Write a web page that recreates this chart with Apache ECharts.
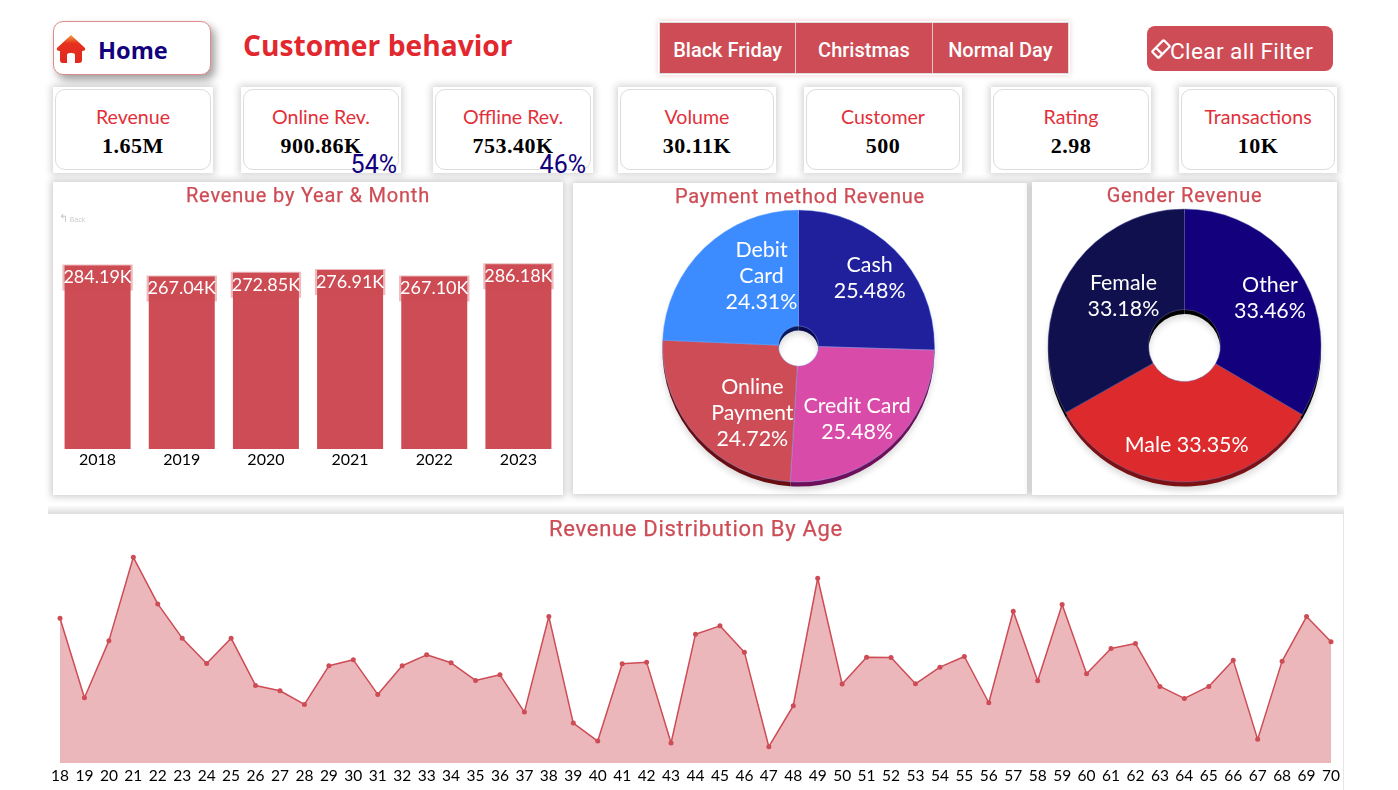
<!DOCTYPE html>
<html>
<head>
<meta charset="utf-8">
<title>Customer behavior</title>
<script src="https://cdn.jsdelivr.net/npm/echarts@6/dist/echarts.min.js"></script>
<style>
  html, body { margin: 0; padding: 0; background: #fff; overflow: hidden; }
  #page { position: relative; width: 1398px; height: 790px; font-family: "Open Sans", sans-serif; }
  #chart { position: absolute; left: 0; top: 0; width: 1398px; height: 790px; z-index: 2; }
  .box { position: absolute; background: #fff; box-sizing: border-box; }
  .panel { box-shadow: 0 0 7px 2px rgba(0,0,0,.2); }
  .heading { position: absolute; z-index: 3; font-family: Roboto, sans-serif; font-size: 20px; color: #cd4c55;
             letter-spacing: .8px; text-align: center; white-space: nowrap; line-height: 24px; -webkit-text-stroke: .25px #cd4c55; }
  #home { left: 53px; top: 21px; width: 158px; height: 54px; border: 1px solid #e08a90; border-radius: 10px;
          box-shadow: 4px 5px 8px rgba(0,0,0,.38); }
  #home span { position: absolute; left: 44px; top: 11px; font-weight: 700; font-size: 23.6px; color: #12007d; line-height: 34px; }
  #home svg { position: absolute; left: 1px; top: 11px; }
  #brand { position: absolute; left: 243px; top: 25px; font-weight: 700; font-size: 28.2px; color: #e2282e; line-height: 40px; white-space: nowrap; }
  #tabs { position: absolute; left: 658px; top: 21px; width: 412px; height: 54px; box-sizing: border-box; display: flex;
          border: 2px solid #fff; box-shadow: 0 0 5px rgba(220,80,90,.3); background: #cd4c55; outline: 1px solid #ddd; outline-offset: -2px; }
  #tabs div { flex: 1; color: #fff; font-family: Roboto, sans-serif; font-weight: 500; font-size: 20px; line-height: 54px; text-align: center;
              border-right: 1px solid #e4c6c8; white-space: nowrap; }
  #tabs div:last-child { border-right: 0; }
  #clear { position: absolute; left: 1147px; top: 26px; width: 186px; height: 45px; border-radius: 8px; background: #cd4c55; color: #fff;
           font-family: Roboto, sans-serif; font-size: 22.7px; line-height: 50px; white-space: nowrap; }
  #clear span { position: absolute; left: 23px; top: 1px; letter-spacing: .35px; }
  #clear svg { position: absolute; left: 4px; top: 13px; }
  .card { box-shadow: 0 0 7px 2px rgba(0,0,0,.17); height: 86px; top: 87px; }
  .card .inner { position: absolute; left: 2px; right: 2px; top: 2px; bottom: 3px; border: 1px solid #dcdcdc; border-radius: 10px; }
  .card .name { position: absolute; left: 0; right: 0; top: 16px; text-align: center; font-family: Lato, sans-serif; font-size: 19.6px; line-height: 28px; color: #e2303a; white-space: nowrap; }
  .card .val { position: absolute; left: 0; right: 0; top: 46px; text-align: center; font-family: "Liberation Serif", serif; font-weight: 700;
               font-size: 22px; line-height: 26px; color: #000; letter-spacing: .5px; white-space: nowrap; }
  .card .share { position: absolute; top: 66px; font-family: Roboto, sans-serif; font-size: 25px; line-height: 24px; color: #12007d; }
  #back { position: absolute; left: 59px; top: 212px; z-index: 3; font-size: 7px; color: #c8c8c8; line-height: 12px; }
  #back b { font-size: 11px; font-weight: 400; }
  #band { position: absolute; left: 48px; top: 505px; width: 1296px; height: 9px; background: linear-gradient(#fff, #dcdcdc); }
</style>
</head>
<body>
<div id="page">
  <div class="box" id="home">
    <svg width="34" height="32" viewBox="0 0 34 30">
      <defs><linearGradient id="roof" x1="0" y1="0" x2="0" y2="1">
        <stop offset="0" stop-color="#f2a23c"/><stop offset=".3" stop-color="#e5301f"/><stop offset="1" stop-color="#e3281e"/>
      </linearGradient></defs>
      <path fill="url(#roof)" d="M16 1 L30 14 Q31 17 27 17 L27 26 Q27 29 24 29 L20 29 L20 21 Q20 19 17 19 L15 19 Q12 19 12 21 L12 29 L8 29 Q5 29 5 26 L5 17 Q1 17 2 14 Z"/>
    </svg>
    <span>Home</span>
  </div>
  <div id="brand">Customer behavior</div>
  <div id="tabs"></div>
  <div id="clear">
    <svg width="20" height="20" viewBox="0 0 22 22"><g transform="rotate(-45 11 11)" fill="none" stroke="#fff" stroke-width="2.4">
      <rect x="2" y="6" width="18" height="10" rx="1"/><line x1="8" y1="6" x2="8" y2="16"/></g></svg>
    <span>Clear all Filter</span>
  </div>
  <div id="cards"></div>

  <div class="box panel" style="left:53px;top:182px;width:510px;height:313px"></div>
  <div class="box panel" style="left:573px;top:183px;width:454px;height:311px"></div>
  <div class="box panel" style="left:1032px;top:182px;width:305px;height:313px"></div>
  <div id="band"></div>
  <div class="box" style="left:48px;top:514px;width:1296px;height:276px;border-right:1px solid #e6e6e6"></div>

  <div class="heading" style="left:53px;width:510px;top:183px">Revenue by Year &amp; Month</div>
  <div class="heading" style="left:573px;width:454px;top:184px">Payment method Revenue</div>
  <div class="heading" style="left:1032px;width:305px;top:183px">Gender Revenue</div>
  <div class="heading" style="left:48px;width:1296px;top:517px;font-size:22px;letter-spacing:.7px">Revenue Distribution By Age</div>
  <div id="back"><b>&#8624;</b> Back</div>

  <div id="chart"></div>
</div>
<script>
// Slicer buttons and headline figures
const tabNames = ["Black Friday", "Christmas", "Normal Day"];
const cardNames = ["Revenue", "Online Rev.", "Offline Rev.", "Volume", "Customer", "Rating", "Transactions"];
const cardValues = ["1.65M", "900.86K", "753.40K", "30.11K", "500", "2.98", "10K"];
const cardShares = ["", "54%", "46%", "", "", "", ""];
const cardShareInsets = [0, 4, 7, 0, 0, 0, 0];
const cardLefts = [53, 241, 433, 618, 804, 991, 1179];
const cardWidths = [160, 160, 160, 158, 158, 160, 158];

// Revenue per year, thousands
const years = ["2018", "2019", "2020", "2021", "2022", "2023"];
const yearRevenue = [284.19, 267.04, 272.85, 276.91, 267.10, 286.18];

// Revenue share by payment method, percent
const paymentNames = ["Cash", "Credit Card", "Online\nPayment", "Debit\nCard"];
const paymentShare = [25.48, 25.48, 24.72, 24.31];
const paymentColors = ["#21209c", "#d94ba8", "#cd4c55", "#3c8cff"];
const paymentEdge = ["#0a0a50", "#6e0f5a", "#6a0d10", "#0a1a60"];

// Revenue share by gender, percent
const genderNames = ["Other", "Male", "Female"];
const genderShare = [33.46, 33.35, 33.18];
const genderColors = ["#12007d", "#dc2a2d", "#10104f"];
const genderEdge = ["#000000", "#7a1215", "#000000"];

// Revenue per customer age, thousands
const ages = ["18","19","20","21","22","23","24","25","26","27","28","29","30","31","32","33","34","35",
  "36","37","38","39","40","41","42","43","44","45","46","47","48","49","50","51","52","53","54","55",
  "56","57","58","59","60","61","62","63","64","65","66","67","68","69","70"];
const ageRevenue = [43.5,19.6,36.7,61.8,47.8,37.5,29.9,37.5,23.3,21.7,17.6,29.2,31.0,20.6,29.2,32.5,30.1,24.8,
  26.5,15.3,44.0,12.0,6.6,29.8,30.3,6.0,38.7,41.2,33.3,4.9,17.2,55.5,23.7,31.8,31.7,23.8,28.8,32.0,
  18.1,45.6,24.7,47.6,26.8,34.4,35.9,23.0,19.4,23.0,30.9,7.1,30.6,44.0,36.4];

// Label nudges away from the default mid-ring spot
const paymentNudge = [[13, -11], [4, 13], [14, 13], [19, -11]];
const genderNudge = [[8, -3], [3, 10], [16, -4]];

const RED = "#cd4c55";

document.getElementById("tabs").innerHTML = tabNames.map(t => `<div>${t}</div>`).join("");
document.getElementById("cards").innerHTML = cardNames.map((n, i) => `
  <div class="box card" style="left:${cardLefts[i]}px;width:${cardWidths[i]}px">
    <div class="inner"></div>
    <div class="name">${n}</div>
    <div class="val">${cardValues[i]}</div>
    ${cardShares[i] ? `<div class="share" style="right:${cardShareInsets[i]}px">${cardShares[i]}</div>` : ""}
  </div>`).join("");

// A donut is two stacked pies: a dark one shifted down gives the bevelled rim.
function donutSeries(names, values, colors, edges, nudges, cx, cy, r0, r, border, oneLine) {
  const common = { type: "pie", radius: [r0, r], startAngle: 90, clockwise: true, animation: false, silent: true };
  return [
    Object.assign({}, common, {
      center: [cx, cy + 4.5], z: 1,
      label: { show: false }, labelLine: { show: false },
      itemStyle: { shadowBlur: 6, shadowColor: "rgba(0,0,0,.14)", shadowOffsetY: 4 },
      data: names.map((n, i) => ({ name: n, value: values[i], itemStyle: { color: edges[i] } }))
    }),
    Object.assign({}, common, {
      center: [cx, cy], z: 2,
      itemStyle: { borderColor: border, borderWidth: 0.6 },
      label: {
        show: true, position: "inside", color: "#fff", fontFamily: "Lato", fontSize: 21.4, lineHeight: 26,
        formatter: p => p.name + (oneLine.includes(p.name) ? " " : "\n") + p.value.toFixed(2) + "%"
      },
      labelLine: { show: false },
      labelLayout: p => ({ dx: nudges[p.dataIndex][0], dy: nudges[p.dataIndex][1] }),
      data: names.map((n, i) => ({ name: n, value: values[i], itemStyle: { color: colors[i] } }))
    })
  ];
}

const chart = echarts.init(document.getElementById("chart"), null, { width: 1398, height: 790 });
chart.setOption({
  animation: false,
  backgroundColor: "transparent",
  grid: [
    { left: 55.5, top: 255.2, width: 505, height: 193.8 },
    { left: 60, right: 67, top: 530, bottom: 27 }
  ],
  xAxis: [
    { type: "category", gridIndex: 0, data: years, axisLine: { show: false }, axisTick: { show: false },
      axisLabel: { color: "#000", fontFamily: "Lato", fontSize: 16, margin: 3 } },
    { type: "category", gridIndex: 1, data: ages, boundaryGap: false, axisLine: { show: false }, axisTick: { show: false },
      axisLabel: { interval: 0, color: "#000", fontFamily: "Lato", fontSize: 15.5, margin: 5 } }
  ],
  yAxis: [
    { type: "value", gridIndex: 0, min: 0, max: 300, show: false },
    { type: "value", gridIndex: 1, min: 0, max: 70, show: false }
  ],
  series: [
    {
      type: "bar", xAxisIndex: 0, yAxisIndex: 0, data: yearRevenue, barWidth: 66, silent: true,
      itemStyle: { color: RED },
      label: {
        show: true, position: "insideTop", distance: 0, color: "#fff", fontFamily: "Lato", fontSize: 18,
        backgroundColor: "rgba(205,76,85,.38)", padding: [4, 1, 4, 1], offset: [0, -1],
        formatter: p => p.value.toFixed(2) + "K"
      }
    },
    {
      type: "line", xAxisIndex: 1, yAxisIndex: 1, data: ageRevenue, silent: true,
      symbol: "circle", symbolSize: 5, showAllSymbol: true,
      lineStyle: { color: RED, width: 1.5 }, itemStyle: { color: RED },
      areaStyle: { color: RED, opacity: 0.4 }
    },
    ...donutSeries(paymentNames, paymentShare, paymentColors, paymentEdge, paymentNudge, 798.5, 346, 20, 136, "rgba(140,180,255,.7)", []),
    ...donutSeries(genderNames, genderShare, genderColors, genderEdge, genderNudge, 1184.5, 345.5, 36, 136.5, "rgba(110,110,170,.8)", ["Male"])
  ]
});
</script>
</body>
</html>
